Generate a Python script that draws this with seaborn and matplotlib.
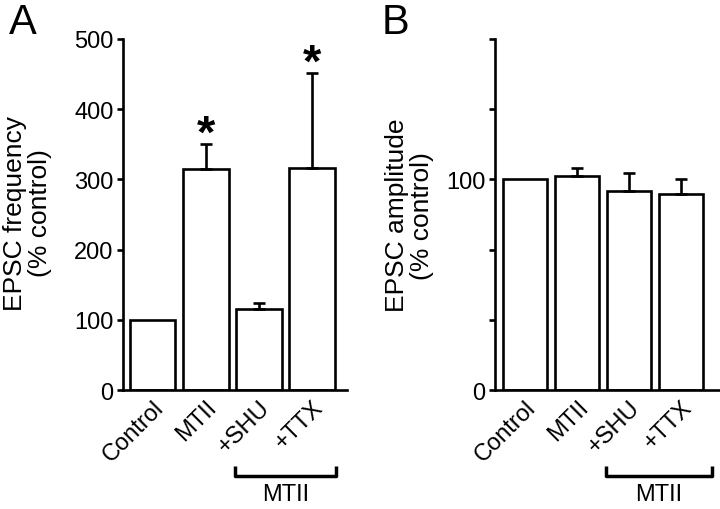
import numpy as np
import pandas as pd
import seaborn as sns
import matplotlib.pyplot as plt
from matplotlib.transforms import blended_transform_factory

sns.set_style("ticks")
plt.rcParams['font.family'] = ['Liberation Sans', 'DejaVu Sans']
plt.rcParams.update({'text.color': 'black', 'axes.labelcolor': 'black',
                     'xtick.color': 'black', 'ytick.color': 'black',
                     'axes.edgecolor': 'black'})

# data
conditions = ['Control', 'MTII', '+SHU', '+TTX']
freq_mean = [100, 314, 115, 316]
freq_err = [0, 36, 9, 135]
amp_mean = [100, 101.5, 94.5, 93]
amp_err = [0, 4, 8.5, 7]
sig_freq = [False, True, False, True]

fig = plt.figure(figsize=(7.2, 5.1), dpi=100)
axA = fig.add_axes([0.171, 0.233, 0.311, 0.689])
axB = fig.add_axes([0.6875, 0.233, 0.3125, 0.689])

FS = 17
LW = 1.9


def panel(ax, means, errs, ylim, xlim, br_end):
    df = pd.DataFrame({'cond': conditions, 'val': means})
    sns.barplot(data=df, x='cond', y='val', ax=ax, color='white',
                edgecolor='black', linewidth=LW, width=0.86, errorbar=None,
                saturation=1)
    x = np.arange(len(conditions))
    errs = np.array(errs, dtype=float)
    has = errs > 0
    ax.errorbar(x[has], np.array(means)[has],
                yerr=[np.zeros(has.sum()), errs[has]], fmt='none',
                ecolor='black', elinewidth=LW, capsize=4.5, capthick=LW)
    ax.set_ylim(*ylim)
    ax.set_xlim(*xlim)
    ax.set_xlabel('')
    ax.set_ylabel('')
    sns.despine(ax=ax)
    for s in ['left', 'bottom']:
        ax.spines[s].set_linewidth(LW)
    ax.tick_params(axis='y', width=LW, length=4, labelsize=FS, pad=3)
    ax.tick_params(axis='x', length=0, labelsize=FS, pad=4)
    ax.set_xticks(x)
    ax.set_xticklabels(conditions, rotation=45, ha='right',
                       rotation_mode='anchor')
    # bracket under the MTII-treated groups
    tr = blended_transform_factory(ax.transData, ax.transAxes)
    ax.plot([1.55, 1.55, br_end, br_end], [-0.215, -0.245, -0.245, -0.215],
            color='black', lw=LW + 0.6, transform=tr, clip_on=False,
            solid_capstyle='butt')
    ax.text((1.55 + br_end) / 2, -0.265, 'MTII', ha='center', va='top',
            fontsize=FS, transform=tr)


panel(axA, freq_mean, freq_err, (0, 500), (-0.55, 3.65), 3.45)
axA.set_yticks([0, 100, 200, 300, 400, 500])
for i, s in enumerate(sig_freq):
    if s:
        axA.text(i, freq_mean[i] + freq_err[i] + 14, '*', ha='center',
                 va='center', fontsize=34, fontweight='bold')

panel(axB, amp_mean, amp_err, (0, 500 / 3), (-0.58, 3.75), 3.6)
axB.set_yticks([0, 100 / 3, 200 / 3, 100, 400 / 3, 500 / 3])
axB.set_yticklabels(['0', '', '', '100', '', ''])

fig.text(0.038, 0.582, 'EPSC frequency\n(% control)', rotation=90,
         ha='center', va='center', fontsize=19, linespacing=1.05)
fig.text(0.569, 0.577, 'EPSC amplitude\n(% control)', rotation=90,
         ha='center', va='center', fontsize=19, linespacing=1.05)

fig.text(0.012, 0.995, 'A', fontsize=30, va='top', ha='left')
fig.text(0.53, 0.995, 'B', fontsize=30, va='top', ha='left')

fig.savefig('out.png', dpi=100, facecolor='white')
